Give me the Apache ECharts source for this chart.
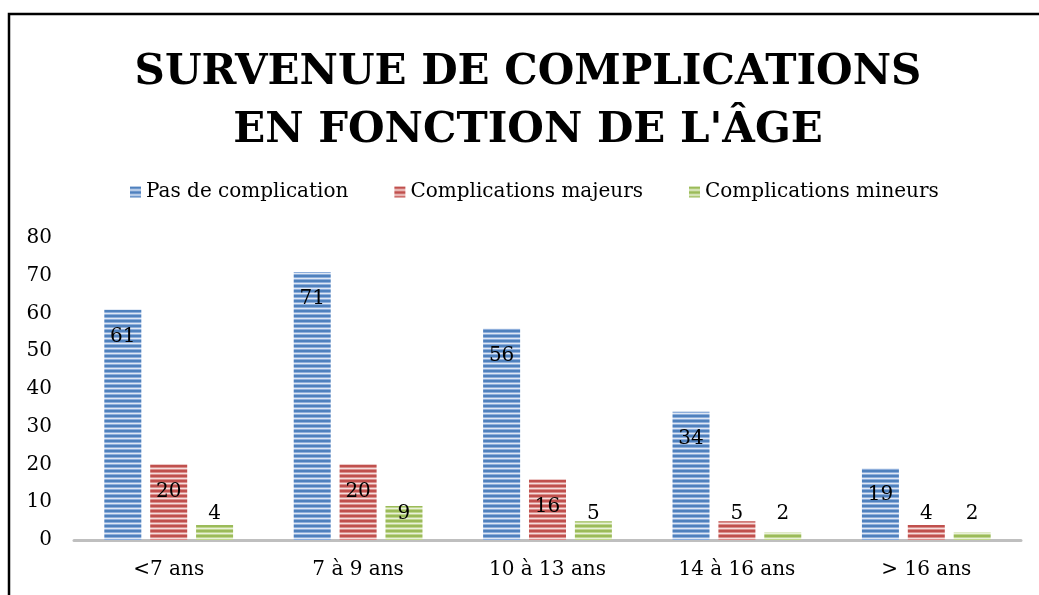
<!DOCTYPE html>
<html>
<head>
<meta charset="utf-8">
<script src="https://cdn.jsdelivr.net/npm/echarts@6/dist/echarts.min.js"></script>
<style>html,body{margin:0;padding:0;background:#fff}#c{width:1039px;height:595px}</style>
</head>
<body>
<div id="c"></div>
<script>
const titleText = "SURVENUE DE COMPLICATIONS\nEN FONCTION DE L'ÂGE";
const categories = ["<7 ans", "7 à 9 ans", "10 à 13 ans", "14 à 16 ans", "> 16 ans"];
const seriesNames = ["Pas de complication", "Complications majeurs", "Complications mineurs"];
const pasDeComplication = [61, 71, 56, 34, 19];
const complicationsMajeurs = [20, 20, 16, 5, 4];
const complicationsMineurs = [4, 9, 5, 2, 2];
const yTicks = [0, 10, 20, 30, 40, 50, 60, 70, 80];

function stripes(dark, mid, light) {
  const c = document.createElement('canvas');
  c.width = 8; c.height = 5;
  const g = c.getContext('2d');
  g.fillStyle = dark; g.fillRect(0, 0, 8, 2);
  g.fillStyle = mid; g.fillRect(0, 2, 8, 1);
  g.fillStyle = light; g.fillRect(0, 3, 8, 1);
  g.fillStyle = mid; g.fillRect(0, 4, 8, 1);
  return { image: c, repeat: 'repeat' };
}
const palette = [
  stripes('#4f81bd', '#8eaedb', '#dfe8f4'),
  stripes('#c0504d', '#da8f8d', '#f6dddc'),
  stripes('#9bbb59', '#c0d690', '#e9f1da')
];
const font = 'DejaVu Serif';

const chart = echarts.init(document.getElementById('c'));
const labelLayout = function (p) {
  const r = p.rect;
  return {
    x: r.x + r.width / 2,
    y: Math.min(r.y + 27, r.y + r.height - 26),
    align: 'center',
    verticalAlign: 'middle'
  };
};
function mk(name, data, i) {
  return {
    name: name, type: 'bar', data: data,
    barWidth: 37, barGap: '24%',
    itemStyle: { color: palette[i] },
    label: { show: true, position: 'inside', color: '#000', fontFamily: font, fontSize: 20 },
    labelLayout: labelLayout
  };
}
chart.setOption({
  animation: false,
  graphic: [{
    type: 'rect', shape: { x: 9, y: 14, width: 1200, height: 800 },
    style: { fill: 'none', stroke: '#000', lineWidth: 2.5 }, z: 100
  }, {
    type: 'text', x: 528, y: 44,
    style: {
      text: titleText, fill: '#000', align: 'center', verticalAlign: 'top',
      font: 'bold 42px "DejaVu Serif"', lineHeight: 58
    }
  }],
  legend: {
    left: 125, top: 177, itemWidth: 11, itemHeight: 11, itemGap: 46,
    icon: 'rect',
    textStyle: { fontFamily: font, fontSize: 20, color: '#000' },
    data: seriesNames
  },
  grid: { left: 74, right: 18, top: 238, bottom: 55 },
  xAxis: {
    type: 'category', data: categories,
    axisLine: { lineStyle: { color: '#bfbfbf', width: 3 } },
    axisTick: { show: false },
    axisLabel: { color: '#000', fontFamily: font, fontSize: 20, margin: 20 }
  },
  yAxis: {
    type: 'value', min: yTicks[0], max: yTicks[yTicks.length - 1], interval: 10,
    splitLine: { show: false }, axisLine: { show: false }, axisTick: { show: false },
    axisLabel: { color: '#000', fontFamily: font, fontSize: 20, margin: 22 }
  },
  series: [
    mk(seriesNames[0], pasDeComplication, 0),
    mk(seriesNames[1], complicationsMajeurs, 1),
    mk(seriesNames[2], complicationsMineurs, 2)
  ]
});
</script>
</body>
</html>
